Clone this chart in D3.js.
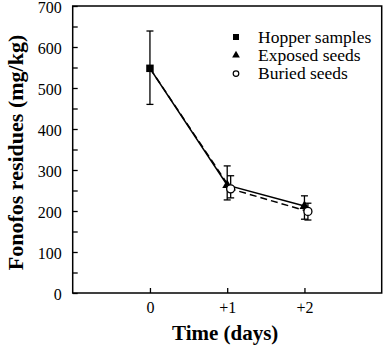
<!DOCTYPE html>
<html>
<head>
<meta charset="utf-8">
<script src="https://cdn.jsdelivr.net/npm/d3@7"></script>
<style>
  html, body { margin: 0; padding: 0; background: #fff; }
  svg { display: block; }
  svg text { font-family: "Liberation Serif", "DejaVu Serif", serif !important; fill: #000; }
</style>
</head>
<body>
<svg id="chart" width="385" height="347"></svg>
<script>
// ---- data ----
const days = [0, 1, 2];
const dayLabels = ["0", "+1", "+2"];
const hopperDay = [0];
const hopperMean = [548];
const hopperLow = [460];
const hopperHigh = [639];
const exposedDays = [0, 1, 2];
const exposedMean = [548, 263, 212];
const exposedLow = [null, 227, 180];
const exposedHigh = [null, 310, 237];
const buriedDays = [0, 1, 2];
const buriedMean = [548, 254, 199];
const buriedLow = [null, 232, 178];
const buriedHigh = [null, 286, 219];
const yTicks = [0, 100, 200, 300, 400, 500, 600, 700];
const yMinorTicks = [50, 150, 250, 350, 450, 550, 650];
const legendLabels = ["Hopper samples", "Exposed seeds", "Buried seeds"];
const buriedOffset = 0.045;

// ---- layout ----
const FONT = '"Liberation Serif", serif';
const svg = d3.select("#chart");
const pLeft = 72.7, pRight = 381.7, pTop = 6, pBottom = 293;
const x = d3.scaleLinear().domain([-1, 3]).range([pLeft, pRight]);
const y = d3.scaleLinear().domain([0, 700]).range([pBottom, pTop]);

// frame
svg.append("rect")
  .attr("x", pLeft).attr("y", pTop)
  .attr("width", pRight - pLeft).attr("height", pBottom - pTop)
  .attr("fill", "none").attr("stroke", "#000").attr("stroke-width", 1.5);

// y axis (ticks inward)
const yAxis = d3.axisLeft(y).tickValues(yTicks).tickSize(-5).tickPadding(11);
const gy = svg.append("g").attr("transform", `translate(${pLeft},0)`).call(yAxis);
gy.attr("font-family", FONT);
gy.select(".domain").remove();
gy.selectAll("line").attr("stroke", "#000").attr("stroke-width", 1.3);
gy.selectAll("text").style("font-size", "16px").style("font-family", FONT).attr("dy", "0.38em");
const yMinor = d3.axisLeft(y).tickValues(yMinorTicks).tickSize(-5).tickFormat("");
const gym = svg.append("g").attr("transform", `translate(${pLeft},0)`).call(yMinor);
gym.select(".domain").remove();
gym.selectAll("line").attr("stroke", "#000").attr("stroke-width", 1.3);

// x axis (ticks inward)
const xAxis = d3.axisBottom(x).tickValues(days).tickSize(-5).tickPadding(9)
  .tickFormat((d, i) => dayLabels[i]);
const gx = svg.append("g").attr("transform", `translate(0,${pBottom})`).call(xAxis);
gx.attr("font-family", FONT);
gx.select(".domain").remove();
gx.selectAll("line").attr("stroke", "#000").attr("stroke-width", 1.3);
gx.selectAll("text").style("font-size", "16px").style("font-family", FONT);

// axis titles
svg.append("text")
  .attr("transform", `translate(23,${(pTop + pBottom) / 2 + 3}) rotate(-90)`)
  .attr("text-anchor", "middle")
  .style("font-family", FONT)
  .style("font-size", "22px").style("font-weight", "bold")
  .text("Fonofos residues (mg/kg)");
svg.append("text")
  .attr("x", (pLeft + pRight) / 2 - 2).attr("y", 340)
  .attr("text-anchor", "middle")
  .style("font-family", FONT)
  .style("font-size", "21px").style("font-weight", "bold")
  .text("Time (days)");

// lines
const exposedPts = exposedDays.map((d, i) => [x(d), y(exposedMean[i])]);
const buriedPts = buriedDays.map((d, i) => [x(d + (d === 0 ? 0 : buriedOffset)), y(buriedMean[i])]);
const line = d3.line();
svg.append("path").attr("d", line(buriedPts))
  .attr("fill", "none").attr("stroke", "#000").attr("stroke-width", 1.5)
  .attr("stroke-dasharray", "7,4");
svg.append("path").attr("d", line(exposedPts))
  .attr("fill", "none").attr("stroke", "#000").attr("stroke-width", 1.6);

// error bars
function errBar(cx, lo, hi) {
  const cap = 3.5;
  const g = svg.append("g").attr("stroke", "#000").attr("stroke-width", 1.3);
  g.append("line").attr("x1", cx).attr("x2", cx).attr("y1", y(lo)).attr("y2", y(hi));
  g.append("line").attr("x1", cx - cap).attr("x2", cx + cap).attr("y1", y(lo)).attr("y2", y(lo));
  g.append("line").attr("x1", cx - cap).attr("x2", cx + cap).attr("y1", y(hi)).attr("y2", y(hi));
}
hopperDay.forEach((d, i) => errBar(x(d), hopperLow[i], hopperHigh[i]));
exposedDays.forEach((d, i) => { if (exposedLow[i] != null) errBar(x(d), exposedLow[i], exposedHigh[i]); });
buriedDays.forEach((d, i) => { if (buriedLow[i] != null) errBar(x(d + buriedOffset), buriedLow[i], buriedHigh[i]); });

// markers
const sq = d3.symbol().type(d3.symbolSquare).size(56);
const tri = d3.symbol().type(d3.symbolTriangle).size(42);
hopperDay.forEach((d, i) => {
  svg.append("path").attr("d", sq()).attr("transform", `translate(${x(d)},${y(hopperMean[i])})`).attr("fill", "#000");
});
exposedDays.forEach((d, i) => {
  if (d === 0) return;
  svg.append("path").attr("d", tri()).attr("transform", `translate(${x(d)},${y(exposedMean[i])})`).attr("fill", "#000");
});
buriedDays.forEach((d, i) => {
  if (d === 0) return;
  svg.append("circle").attr("cx", x(d + buriedOffset)).attr("cy", y(buriedMean[i])).attr("r", 4)
    .attr("fill", "#fff").attr("stroke", "#000").attr("stroke-width", 1.3);
});

// legend
const lx = 236, ly0 = 37, ldy = 18.3;
const lg = svg.append("g");
lg.append("path").attr("d", d3.symbol().type(d3.symbolSquare).size(36)()).attr("transform", `translate(${lx},${ly0})`).attr("fill", "#000");
lg.append("path").attr("d", d3.symbol().type(d3.symbolTriangle).size(26)()).attr("transform", `translate(${lx},${ly0 + ldy})`).attr("fill", "#000");
lg.append("circle").attr("cx", lx).attr("cy", ly0 + 2 * ldy).attr("r", 2.8).attr("fill", "#fff").attr("stroke", "#000").attr("stroke-width", 1.2);
legendLabels.forEach((t, i) => {
  lg.append("text").attr("x", 258).attr("y", ly0 + i * ldy + 5.5)
    .style("font-family", FONT)
    .style("font-size", "17.5px").text(t);
});
</script>
</body>
</html>
